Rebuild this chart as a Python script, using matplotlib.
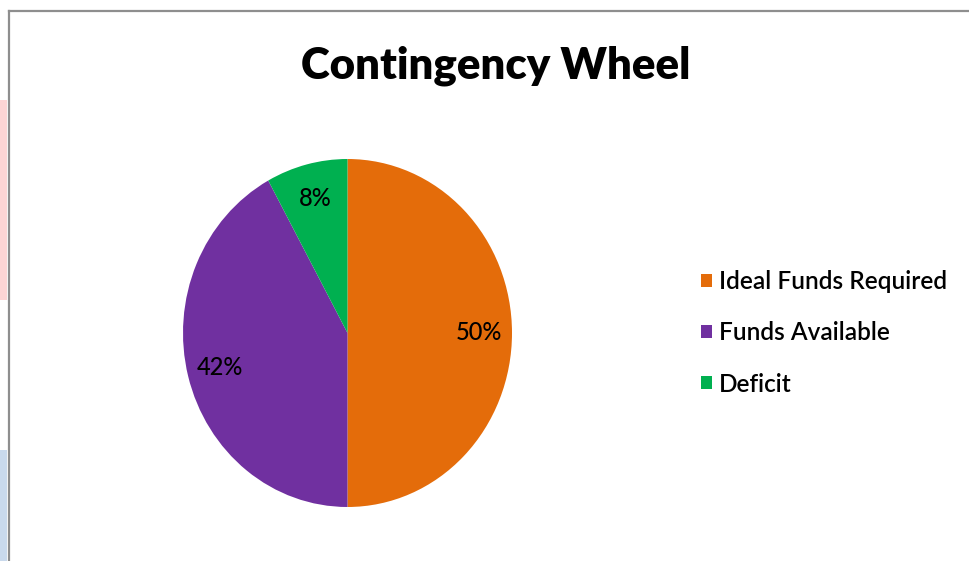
import matplotlib

matplotlib.use("Agg")
import matplotlib.pyplot as plt
from matplotlib.lines import Line2D
from matplotlib.patches import Rectangle

title = "Contingency Wheel"
labels = ["Ideal Funds Required", "Funds Available", "Deficit"]
values = [50, 42, 8]
colors = ["#E46C0A", "#7030A0", "#00B050"]

W, H = 969, 561
fig = plt.figure(figsize=(W / 100, H / 100), dpi=100)
fig.patch.set_facecolor("white")

# bits of the slide behind the chart, left edge
fig.add_artist(Rectangle((0, 1 - 300 / H), 7 / W, 200 / H, transform=fig.transFigure,
                         facecolor="#fcd4d4", edgecolor="none"))
fig.add_artist(Rectangle((0, 0), 7 / W, 111 / H, transform=fig.transFigure,
                         facecolor="#c9d9ec", edgecolor="none"))
# chart frame (left and top only visible)
fig.add_artist(Line2D([8.5 / W, 8.5 / W], [0, 1 - 10.5 / H], transform=fig.transFigure,
                      color="#8e8e8e", lw=1.6))
fig.add_artist(Line2D([8.5 / W, 1], [1 - 10.5 / H, 1 - 10.5 / H], transform=fig.transFigure,
                      color="#8e8e8e", lw=1.6))

ax = fig.add_axes([183 / W, (H - 507) / H, (512 - 183) / W, (507 - 159) / H])
wedges, texts, autotexts = ax.pie(
    values,
    colors=colors,
    startangle=90,
    counterclock=False,
    autopct="%d%%",
    pctdistance=0.8,
    textprops={"fontsize": 17, "family": "Lato", "weight": "medium", "color": "black"},
)
ax.set_aspect("auto")
ax.set_xlim(-1, 1)
ax.set_ylim(-1, 1)

fig.text(496 / W, 1 - 66 / H, title, ha="center", va="center",
         fontsize=31.5, fontweight="heavy", family="Lato")

fig.legend(
    wedges,
    labels,
    loc="center left",
    bbox_to_anchor=(679 / W, 1 - 333 / H),
    frameon=False,
    prop={"family": "Lato", "size": 17.6, "weight": "semibold"},
    handlelength=0.45,
    handleheight=0.45,
    handletextpad=0.3,
    labelspacing=1.15,
)

fig.savefig("out.png", dpi=100)
